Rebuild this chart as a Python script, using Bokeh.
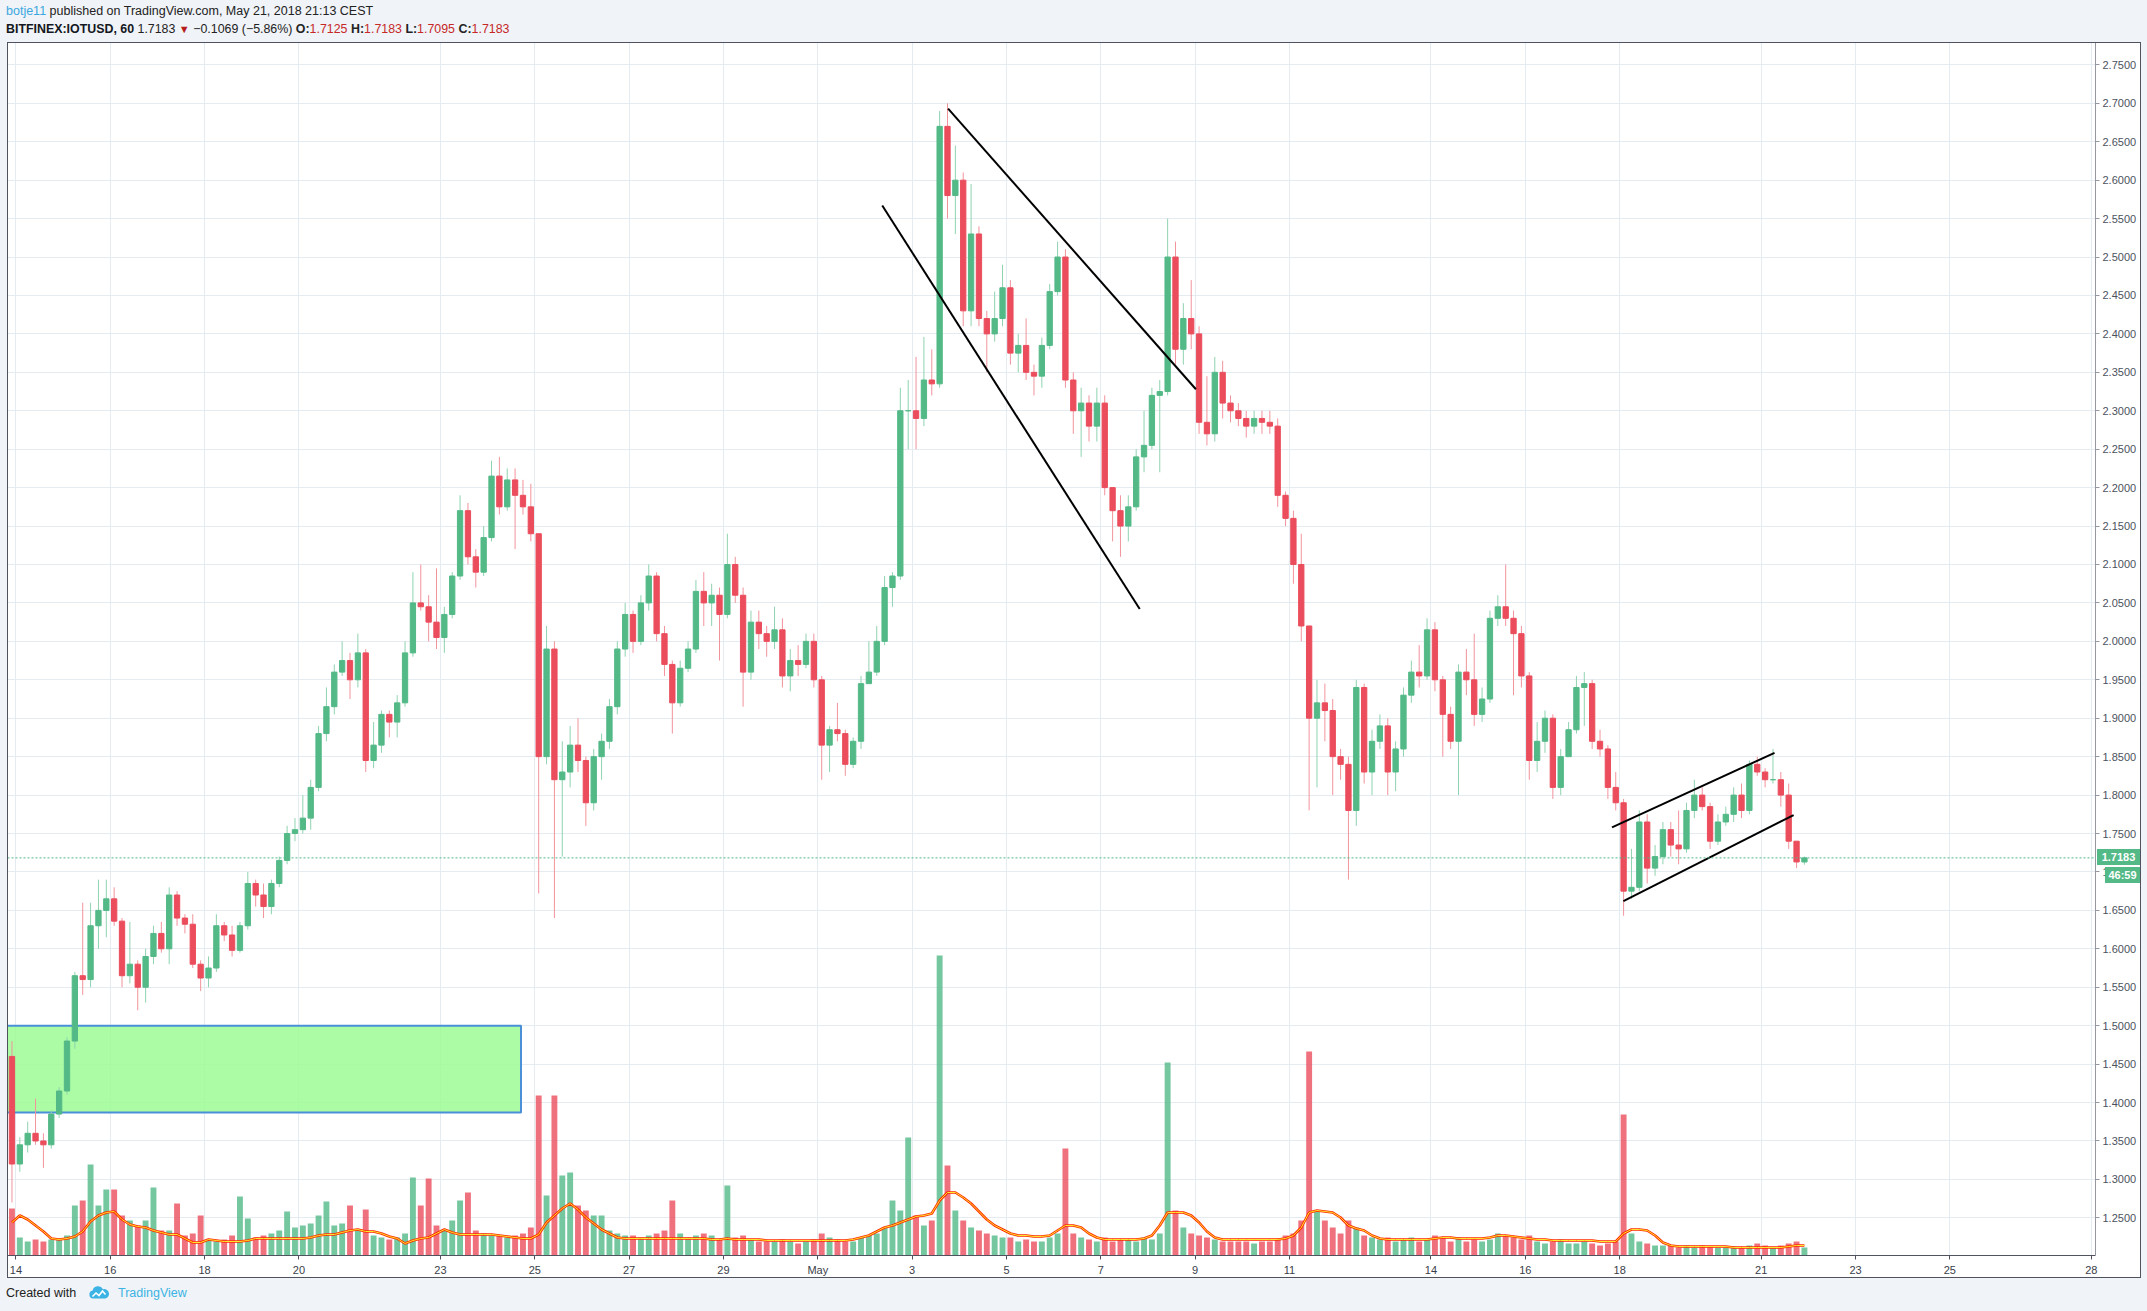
import numpy as np
from bokeh.plotting import figure
from bokeh.models import (ColumnDataSource, Range1d, FixedTicker, SingleIntervalTicker,
                          PrintfTickFormatter, Span)
from bokeh.embed import file_html
from bokeh.resources import INLINE

# ---------------- data (4-hour candles, hours counted from Apr 14 00:00) ----------------
start_hour = -4
bar_hours = 4
first_open = 1.46

closes = [
    1.32,
    1.345, 1.36, 1.35, 1.345, 1.385, 1.415,     # Apr 14
    1.48, 1.565, 1.56, 1.63, 1.65, 1.665,       # Apr 15
    1.636, 1.565, 1.58, 1.55, 1.59, 1.62,       # Apr 16
    1.60, 1.67, 1.64, 1.632, 1.58, 1.562,       # Apr 17
    1.575, 1.63, 1.618, 1.598, 1.63, 1.685,     # Apr 18
    1.67, 1.655, 1.685, 1.715, 1.75, 1.755,     # Apr 19
    1.77, 1.81, 1.88, 1.915, 1.96, 1.975,       # Apr 20
    1.95, 1.985, 1.845, 1.865, 1.905, 1.895,    # Apr 21
    1.92, 1.985, 2.05, 2.045, 2.025, 2.005,     # Apr 22
    2.035, 2.085, 2.17, 2.11, 2.09, 2.135,      # Apr 23
    2.215, 2.175, 2.21, 2.19, 2.175, 2.14,      # Apr 24
    1.85, 1.99, 1.82, 1.83, 1.865, 1.845,       # Apr 25
    1.79, 1.85, 1.87, 1.915, 1.99, 2.035,       # Apr 26
    2.0, 2.05, 2.085, 2.01, 1.97, 1.92,         # Apr 27
    1.965, 1.99, 2.065, 2.05, 2.06, 2.035,      # Apr 28
    2.10, 2.06, 1.96, 2.025, 2.01, 2.0,         # Apr 29
    2.015, 1.955, 1.975, 1.97, 2.0, 1.95,       # Apr 30
    1.865, 1.885, 1.88, 1.84, 1.87, 1.945,      # May 1
    1.96, 2.0, 2.07, 2.085, 2.30, 2.30,         # May 2
    2.29, 2.34, 2.335, 2.67, 2.58, 2.60,        # May 3
    2.43, 2.53, 2.42, 2.40, 2.42, 2.46,         # May 4
    2.375, 2.385, 2.35, 2.345, 2.385, 2.455,    # May 5
    2.50, 2.34, 2.30, 2.31, 2.28, 2.31,         # May 6
    2.20, 2.17, 2.15, 2.175, 2.24, 2.255,       # May 7
    2.32, 2.325, 2.50, 2.38, 2.42, 2.40,        # May 8
    2.285, 2.27, 2.35, 2.31, 2.30, 2.29,        # May 9
    2.28, 2.29, 2.285, 2.28, 2.19, 2.16,        # May 10
    2.10, 2.02, 1.90, 1.92, 1.91, 1.85,         # May 11
    1.84, 1.78, 1.94, 1.83, 1.87, 1.89,         # May 12
    1.83, 1.86, 1.93, 1.96, 1.955, 2.015,       # May 13
    1.95, 1.905, 1.87, 1.96, 1.95, 1.905,       # May 14
    1.925, 2.03, 2.045, 2.03, 2.01, 1.955,      # May 15
    1.845, 1.87, 1.90, 1.81, 1.85, 1.885,       # May 16
    1.94, 1.945, 1.87, 1.86, 1.81, 1.79,        # May 17
    1.675, 1.68, 1.765, 1.705, 1.72, 1.755,     # May 18
    1.735, 1.73, 1.78, 1.80, 1.785, 1.74,       # May 19
    1.765, 1.775, 1.80, 1.78, 1.84, 1.83,       # May 20
    1.82, 1.82, 1.80, 1.74, 1.713, 1.7183,      # May 21
]

highs = [
    1.48,
    1.355, 1.375, 1.405, 1.36, 1.39, 1.42,
    1.485, 1.57, 1.66, 1.66, 1.69, 1.69,
    1.68, 1.64, 1.635, 1.585, 1.60, 1.63,
    1.635, 1.68, 1.675, 1.645, 1.645, 1.585,
    1.59, 1.645, 1.635, 1.63, 1.635, 1.70,
    1.69, 1.685, 1.69, 1.72, 1.76, 1.77,
    1.80, 1.82, 1.89, 1.94, 1.97, 2.0,
    1.985, 2.01, 1.99, 1.895, 1.91, 1.91,
    1.93, 2.0, 2.09, 2.10, 2.06, 2.095,
    2.045, 2.09, 2.19, 2.18, 2.12, 2.15,
    2.235, 2.24, 2.225, 2.225, 2.21, 2.205,
    2.14, 2.02, 2.0, 1.87, 1.89, 1.90,
    1.85, 1.86, 1.88, 1.925, 2.0, 2.05,
    2.04, 2.06, 2.10, 2.09, 2.02, 1.975,
    1.975, 2.0, 2.08, 2.09, 2.075, 2.07,
    2.14, 2.11, 2.07, 2.04, 2.04, 2.02,
    2.045, 2.03, 1.99, 1.995, 2.01, 2.01,
    1.955, 1.89, 1.92, 1.885, 1.875, 1.955,
    2.0, 2.02, 2.085, 2.09, 2.33, 2.34,
    2.37, 2.396, 2.38, 2.69, 2.70, 2.645,
    2.61, 2.595, 2.54, 2.43, 2.455, 2.49,
    2.47, 2.40, 2.42, 2.36, 2.395, 2.465,
    2.52, 2.51, 2.35, 2.33, 2.32, 2.33,
    2.32, 2.20, 2.19, 2.19, 2.25, 2.30,
    2.33, 2.34, 2.55, 2.52, 2.44, 2.47,
    2.41, 2.345, 2.37, 2.365, 2.32, 2.31,
    2.30, 2.30, 2.30, 2.30, 2.29, 2.195,
    2.17, 2.14, 2.02, 1.95, 1.945, 1.925,
    1.86, 1.85, 1.95, 1.945, 1.885, 1.905,
    1.90, 1.87, 1.94, 1.975, 1.995, 2.03,
    2.025, 1.955, 1.915, 1.97, 1.99, 2.01,
    1.94, 2.04, 2.06, 2.10, 2.04, 2.02,
    1.96, 1.895, 1.91, 1.905, 1.86, 1.895,
    1.955, 1.96, 1.95, 1.885, 1.865, 1.83,
    1.795, 1.73, 1.78, 1.775, 1.735, 1.765,
    1.765, 1.78, 1.79, 1.82, 1.81, 1.79,
    1.775, 1.785, 1.81, 1.815, 1.845, 1.85,
    1.835, 1.86, 1.83, 1.815, 1.74, 1.72,
]

lows = [
    1.27,
    1.31, 1.335, 1.345, 1.315, 1.34, 1.38,
    1.41, 1.47, 1.54, 1.55, 1.60, 1.615,
    1.63, 1.55, 1.555, 1.52, 1.53, 1.58,
    1.595, 1.58, 1.63, 1.62, 1.575, 1.545,
    1.55, 1.57, 1.61, 1.59, 1.595, 1.625,
    1.655, 1.64, 1.645, 1.68, 1.71, 1.74,
    1.75, 1.755, 1.805, 1.87, 1.905, 1.955,
    1.925, 1.94, 1.83, 1.835, 1.855, 1.875,
    1.875, 1.915, 1.98, 2.04, 2.0, 1.99,
    1.985, 2.03, 2.08, 2.10, 2.07, 2.085,
    2.13, 2.165, 2.17, 2.12, 2.165, 2.13,
    1.672, 1.84, 1.64, 1.72, 1.81, 1.83,
    1.76, 1.78, 1.82, 1.86, 1.905, 1.98,
    1.985, 1.995, 2.04, 2.0, 1.955, 1.88,
    1.915, 1.96, 1.985, 2.02, 2.02, 1.975,
    2.03, 2.05, 1.915, 1.95, 1.99, 1.98,
    1.99, 1.94, 1.935, 1.955, 1.965, 1.94,
    1.82, 1.83, 1.87, 1.825, 1.835, 1.86,
    1.945, 1.955, 1.995, 2.045, 2.08, 2.25,
    2.25, 2.28, 2.32, 2.33, 2.55, 2.53,
    2.41, 2.41, 2.41, 2.35, 2.39, 2.41,
    2.36, 2.35, 2.34, 2.32, 2.33, 2.38,
    2.45, 2.33, 2.27, 2.24, 2.26, 2.26,
    2.19, 2.13, 2.11, 2.13, 2.17, 2.22,
    2.25, 2.22, 2.32, 2.36, 2.36, 2.38,
    2.27, 2.255, 2.26, 2.29, 2.285, 2.28,
    2.265, 2.27, 2.27, 2.27, 2.175, 2.15,
    2.075, 2.00, 1.78, 1.81, 1.87, 1.80,
    1.82, 1.69, 1.76, 1.815, 1.80, 1.86,
    1.80, 1.805, 1.85, 1.92, 1.94, 1.95,
    1.935, 1.85, 1.86, 1.80, 1.93, 1.89,
    1.895, 1.92, 2.02, 2.02, 1.93, 1.94,
    1.82, 1.83, 1.855, 1.795, 1.80, 1.85,
    1.88, 1.89, 1.86, 1.85, 1.795, 1.78,
    1.643, 1.665, 1.675, 1.685, 1.695, 1.71,
    1.72, 1.71, 1.725, 1.77, 1.78, 1.73,
    1.735, 1.76, 1.765, 1.77, 1.775, 1.825,
    1.81, 1.815, 1.785, 1.73, 1.705, 1.7095,
]

# volume (arbitrary units, tallest bar of each 4-hour block)
volumes = [
    47,
    18, 14, 16, 14, 16, 16,
    20, 50, 55, 91, 50, 66,
    66, 40, 35, 30, 35, 68,
    25, 25, 52, 20, 22, 40,
    15, 14, 16, 20, 59, 37,
    18, 20, 22, 25, 44, 28,
    30, 32, 40, 54, 30, 32,
    50, 25, 46, 20, 18, 16,
    18, 22, 78, 50, 77, 30,
    25, 35, 55, 63, 25, 22,
    20, 20, 18, 20, 22, 28,
    160, 60, 160, 80, 83, 50,
    45, 40, 40, 25, 22, 20,
    20, 18, 20, 22, 25, 55,
    22, 18, 20, 22, 20, 16,
    70, 18, 20, 16, 14, 14,
    14, 16, 14, 12, 14, 16,
    22, 18, 16, 14, 14, 18,
    20, 22, 28, 55, 45, 118,
    40, 30, 35, 300, 90, 45,
    35, 28, 25, 22, 20, 18,
    18, 14, 16, 14, 14, 18,
    22, 107, 22, 18, 16, 14,
    18, 14, 16, 16, 14, 18,
    16, 22, 193, 45, 28, 22,
    20, 18, 16, 14, 14, 14,
    14, 12, 14, 14, 16, 20,
    22, 35, 204, 45, 35, 28,
    22, 35, 28, 20, 18, 16,
    18, 14, 16, 18, 14, 16,
    20, 18, 14, 18, 14, 16,
    14, 16, 22, 20, 18, 16,
    20, 14, 12, 14, 16, 12,
    12, 14, 12, 10, 12, 14,
    141, 22, 14, 12, 10, 10,
    10, 8, 10, 8, 10, 9,
    8, 8, 9, 8, 10, 12,
    10, 8, 10, 12, 14, 8,
]

# volume moving-average line (same units)
volume_ma = [
    33,
    40, 36, 30, 24, 17, 16,
    17, 19, 24, 34, 40, 43,
    44, 36, 31, 29, 28, 25,
    23, 21, 21, 17, 13, 13,
    16, 15, 14, 14, 14, 15,
    17, 17, 17, 17, 17, 17,
    17, 18, 20, 21, 21, 23,
    25, 26, 24, 24, 22, 19,
    17, 12, 15, 17, 18, 22,
    26, 23, 21, 21, 21, 21,
    21, 20, 19, 18, 17, 17,
    21, 33, 40, 47, 52, 46,
    38, 32, 26, 22, 18, 17,
    17, 17, 17, 17, 17, 17,
    17, 17, 17, 17, 16, 16,
    17, 16, 16, 16, 16, 15,
    15, 15, 15, 15, 15, 15,
    15, 15, 15, 15, 16, 18,
    20, 24, 28, 30, 33, 36,
    39, 40, 42, 55, 63, 63,
    58, 52, 44, 36, 30, 26,
    22, 20, 20, 19, 19, 20,
    25, 30, 30, 28, 22, 18,
    16, 16, 16, 16, 16, 17,
    20, 30, 43, 43, 43, 40,
    33, 24, 18, 16, 16, 16,
    16, 16, 16, 16, 16, 17,
    20, 28, 43, 45, 44, 43,
    38, 30, 27, 25, 20, 17,
    16, 16, 16, 16, 16, 16,
    17, 18, 18, 17, 17, 17,
    17, 18, 20, 20, 19, 18,
    17, 16, 16, 15, 15, 15,
    15, 15, 15, 14, 14, 14,
    22, 26, 26, 25, 20, 13,
    10, 9, 9, 9, 9, 9,
    9, 9, 8, 8, 8, 8,
    8, 8, 8, 9, 10, 10,
]

x_tick_hours = [0, 48, 96, 144, 216, 264, 312, 360, 408, 456, 504, 552, 600,
                648, 720, 768, 816, 888, 936, 984, 1056]
x_tick_labels = ["14", "16", "18", "20", "23", "25", "27", "29", "May", "3", "5", "7", "9",
                 "11", "14", "16", "18", "21", "23", "25", "28"]

last_price = 1.7183
countdown = "46:59"

# drawings on the chart
zone_left, zone_right = -20.0, 257.0
zone_bottom, zone_top = 1.387, 1.50
wedge_upper_x = [474.3, 600.4]
wedge_upper_y = [2.693, 2.328]
wedge_lower_x = [440.8, 571.8]
wedge_lower_y = [2.567, 2.042]
channel_upper_x = [812.1, 894.8]
channel_upper_y = [1.758, 1.855]
channel_lower_x = [817.9, 904.5]
channel_lower_y = [1.662, 1.774]

# ---------------- derived ----------------
n = len(closes)
opens = [first_open] + closes[:-1]
t0 = start_hour + bar_hours * np.arange(n)
centers = t0 + bar_hours / 2.0
o = np.array(opens); c = np.array(closes)
h = np.maximum(np.array(highs), np.maximum(o, c))
l = np.minimum(np.array(lows), np.minimum(o, c))
up = c >= o
GREEN = "#53b987"
RED = "#eb4d5c"
colors = [GREEN if u else RED for u in up]
wick_colors = ["#8fd3b0" if u else "#f2939c" for u in up]

src = ColumnDataSource(dict(x=centers, open=o, close=c, high=h, low=l,
                            top=np.maximum(o, c), bottom=np.minimum(o, c),
                            color=colors, wick=wick_colors,
                            vol=np.array(volumes, dtype=float),
                            vma=np.array(volume_ma, dtype=float)))

# ---------------- figure ----------------
FRAME_W, FRAME_H = 2088, 1213
X_START, X_END = -4.27, 1058.1
Y_BOTTOM, Y_TOP = 1.2010, 2.7791

p = figure(frame_width=FRAME_W, frame_height=FRAME_H,
           x_range=Range1d(X_START, X_END), y_range=Range1d(Y_BOTTOM, Y_TOP),
           y_axis_location="right", output_backend="svg", toolbar_location=None,
           min_border_left=7, min_border_top=42, min_border_right=51, min_border_bottom=55)
p.extra_y_ranges = {"vol": Range1d(0, FRAME_H)}

p.background_fill_color = "white"
p.border_fill_color = "white"
p.outline_line_color = None

# grids
p.xgrid.ticker = FixedTicker(ticks=x_tick_hours)
p.ygrid.ticker = SingleIntervalTicker(interval=0.05, num_minor_ticks=0)
for g in (p.xgrid[0], p.ygrid[0]):
    g.grid_line_color = "#e4ecf2"
    g.grid_line_width = 1

# x axis
xa = p.xaxis[0]
xa.ticker = FixedTicker(ticks=x_tick_hours)
xa.major_label_overrides = {k: v for k, v in zip(x_tick_hours, x_tick_labels)}
xa.major_label_text_font = "Liberation Sans"
xa.major_label_text_font_size = "11px"
xa.major_label_text_color = "#3a3e48"
xa.axis_line_color = "#50535e"
xa.major_tick_line_color = "#50535e"
xa.major_tick_out = 4
xa.major_tick_in = 0
xa.minor_tick_line_color = None
xa.major_label_standoff = 4

# y axis
ya = p.yaxis[0]
ya.ticker = SingleIntervalTicker(interval=0.05, num_minor_ticks=0)
ya.formatter = PrintfTickFormatter(format="%.4f")
ya.major_label_text_font = "Liberation Sans"
ya.major_label_text_font_size = "11px"
ya.major_label_text_color = "#4c525e"
ya.axis_line_color = "#9598a1"
ya.major_tick_line_color = "#9598a1"
ya.major_tick_out = 4
ya.major_tick_in = 0
ya.minor_tick_line_color = None
ya.major_label_standoff = 3

# green demand zone
p.quad(left=[zone_left], right=[zone_right], bottom=[zone_bottom], top=[zone_top],
       fill_color="#9cfc94", fill_alpha=0.85, line_color="#4a90d9", line_width=2)

# volume and its moving average
p.vbar(x="x", width=3.0, top="vol", bottom=0, source=src, y_range_name="vol",
       fill_color="color", line_color=None, fill_alpha=0.8)
p.line(x="x", y="vma", source=src, y_range_name="vol", line_color="#ff2a00", line_width=2.6)
p.line(x="x", y="vma", source=src, y_range_name="vol", line_color="#ffe52b", line_width=1.0)

# candles
p.segment(x0="x", y0="low", x1="x", y1="high", source=src, line_color="wick", line_width=1)
p.vbar(x="x", width=2.7, top="top", bottom="bottom", source=src,
       fill_color="color", line_color="color", line_width=1)

# trend lines
for xs, ys in ((wedge_upper_x, wedge_upper_y), (wedge_lower_x, wedge_lower_y),
               (channel_upper_x, channel_upper_y), (channel_lower_x, channel_lower_y)):
    p.line(xs, ys, line_color="black", line_width=2)

# last price line
p.add_layout(Span(location=last_price, dimension="width", line_color=GREEN,
                  line_dash="2 2", line_width=1))

# ---------------- page decorations: header, footer, price badges ----------------
BG = "#f0f3f7"
FONT = "'Liberation Sans', Arial, sans-serif"
RED_TXT = "#c62828"

def box(left, top, width, height, extra=""):
    return (f'<div style="position:absolute;left:{left}px;top:{top}px;width:{width}px;'
            f'height:{height}px;{extra}"></div>')

def text(left, top, html, style=""):
    return (f'<div style="position:absolute;left:{left}px;top:{top}px;z-index:7;'
            f'white-space:nowrap;{style}">{html}</div>')

logo_svg = ('<svg width="22" height="14" viewBox="0 0 22 14">'
            '<path d="M5 13.5 A4 4 0 0 1 4.6 5.6 A5.6 5.6 0 0 1 15 4.2 A4.6 4.6 0 0 1 17.4 13.5 Z" '
            'fill="#3bb3e4"/>'
            '<path d="M4.5 11.5 L8 8 L11 10.5 L14.5 6 L17.5 9.5" stroke="#fff" stroke-width="1.6" '
            'fill="none"/></svg>')

overlay = "".join([
    box(0, 0, 2147, 42, f"background:{BG};z-index:5"),
    box(0, 1278, 2147, 33, f"background:{BG};z-index:5"),
    box(0, 42, 7, 1236, f"background:{BG};z-index:5"),
    box(2141, 42, 6, 1236, f"background:{BG};z-index:5"),
    box(7, 42, 2134, 1236, "box-sizing:border-box;border:1px solid #50535e;z-index:6;pointer-events:none"),
    text(6, 4, '<span style="color:#3aa7e0">botje11</span> published on TradingView.com, '
               'May 21, 2018 21:13 CEST', f"font:12.5px/14px {FONT};color:#222"),
    text(6, 22, '<b style="color:#131722">BITFINEX:IOTUSD, 60</b> 1.7183 '
                '<span style="color:#b71c1c;font-size:11px">&#9660;</span> &minus;0.1069 (&minus;5.86%) '
                f'<b>O:</b><span style="color:{RED_TXT}">1.7125</span> '
                f'<b>H:</b><span style="color:{RED_TXT}">1.7183</span> '
                f'<b>L:</b><span style="color:{RED_TXT}">1.7095</span> '
                f'<b>C:</b><span style="color:{RED_TXT}">1.7183</span>',
         f"font:12.4px/14px {FONT};color:#222"),
    text(6, 1286, "Created with", f"font:12.5px/14px {FONT};color:#222"),
    text(88, 1285, logo_svg, "line-height:0"),
    text(118, 1286, "TradingView", f"font:12.5px/14px {FONT};color:#3bb3e4"),
    text(2097, 849, f"{last_price:.4f}",
         f"width:43px;height:16px;background:{GREEN};color:#fff;font:bold 11px/16px {FONT};"
         "text-align:center"),
    text(2105, 867, countdown,
         f"width:35px;height:16px;background:{GREEN};color:#fff;font:bold 11px/16px {FONT};"
         "text-align:center"),
])

html = file_html(p, INLINE, title="IOTUSD")
html = html.replace("</head>", f"<style>body{{background:{BG};}}</style></head>", 1)
html = html.replace("</body>", overlay + "</body>", 1)
with open("out.html", "w") as f:
    f.write(html)
